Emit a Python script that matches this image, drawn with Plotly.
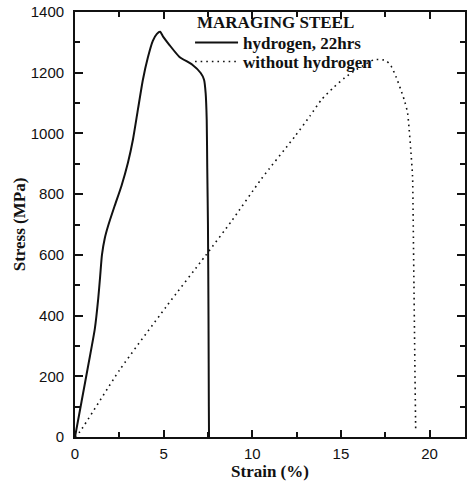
import plotly.graph_objects as go

# Stress-strain curves for maraging steel
hyd_strain = [0, 0.37, 0.75, 1.12, 1.31, 1.42, 1.52, 1.68, 1.87, 2.24, 2.62, 2.99,
              3.27, 3.55, 3.83, 4.11, 4.39, 4.62, 4.80, 4.98, 5.32, 5.88, 6.62,
              7.09, 7.28, 7.37, 7.43, 7.46, 7.50, 7.53, 7.55, 7.56]
hyd_stress = [0, 117, 237, 357, 456, 530, 600, 655, 696, 762, 827, 904,
              980, 1079, 1177, 1250, 1305, 1328, 1335, 1318, 1292, 1253, 1226,
              1199, 1177, 1133, 1046, 887, 700, 400, 100, 0]

dry_strain = [0, 0.28, 2.52, 5.13, 7.37, 8.84, 10.5, 12.4, 13.25, 13.9, 14.56,
              15.21, 15.86, 16.24, 16.89, 17.54, 17.82, 18.1, 18.38, 18.57,
              18.76, 18.85, 18.94, 19.04, 19.07, 19.12, 19.17, 19.21, 19.22]
dry_stress = [0, 18, 221, 428, 598, 712, 849, 990, 1057, 1111, 1150,
              1183, 1210, 1223, 1243, 1240, 1223, 1188, 1144, 1111,
              1068, 1013, 947, 860, 750, 500, 250, 60, 20]

x_ticks = [0, 5, 10, 15, 20]
y_ticks = [0, 200, 400, 600, 800, 1000, 1200, 1400]

INK = "#111111"
serif = "Liberation Serif, Times New Roman"

fig = go.Figure()
fig.add_trace(go.Scatter(
    x=hyd_strain, y=hyd_stress, mode="lines", name="<b>hydrogen, 22hrs</b>",
    legend="legend",
    line=dict(color=INK, width=2, shape="spline", smoothing=0.6),
))
fig.add_trace(go.Scatter(
    x=dry_strain, y=dry_stress, mode="lines", name="<b>without hydrogen</b>",
    legend="legend2",
    line=dict(color=INK, width=1.6, dash="1.6px,4px", shape="spline", smoothing=0.6),
))

tick_font = dict(family="Liberation Sans, Arial", size=15, color=INK)
title_font = dict(family=serif, size=17, color=INK)
legend_common = dict(
    x=0.295, xanchor="left", yanchor="top",
    bgcolor="rgba(0,0,0,0)", borderwidth=0, itemwidth=43,
    font=dict(family=serif, size=17, color=INK),
)

fig.update_layout(
    width=467, height=481,
    margin=dict(l=75, r=0, t=12, b=42),
    paper_bgcolor="white", plot_bgcolor="white",
    showlegend=True,
    legend=dict(y=0.9698, **legend_common),
    legend2=dict(y=0.9247, **legend_common),
    annotations=[dict(
        text="<b>MARAGING STEEL</b>", xref="paper", yref="paper",
        x=0.311, y=0.9742, xanchor="left", yanchor="middle",
        showarrow=False, borderpad=0,
        font=dict(family=serif, size=17, color=INK),
    )],
)

fig.update_xaxes(
    range=[0, 22], tickvals=x_ticks, ticktext=[str(v) for v in x_ticks],
    showline=True, linecolor=INK, linewidth=1.8, mirror="allticks",
    ticks="inside", ticklen=7, tickwidth=1.6, tickcolor=INK,
    minor=dict(ticks="inside", dtick=2.5, ticklen=5, tickwidth=1.5, tickcolor=INK),
    showgrid=False, zeroline=False,
    tickfont=tick_font, ticklabelstandoff=2,
    title=dict(text="<b>Strain (%)</b>", font=title_font, standoff=7),
)
fig.update_yaxes(
    range=[0, 1400], tickvals=y_ticks, ticktext=[str(v) for v in y_ticks],
    showline=True, linecolor=INK, linewidth=1.8, mirror="allticks",
    ticks="inside", ticklen=8, tickwidth=1.6, tickcolor=INK,
    minor=dict(ticks="inside", dtick=100, ticklen=5, tickwidth=1.5, tickcolor=INK),
    showgrid=False, zeroline=False,
    tickfont=tick_font, ticklabelstandoff=6,
    title=dict(text="<b>Stress (MPa)</b>", font=title_font, standoff=1),
)

fig.write_html("out.html")
